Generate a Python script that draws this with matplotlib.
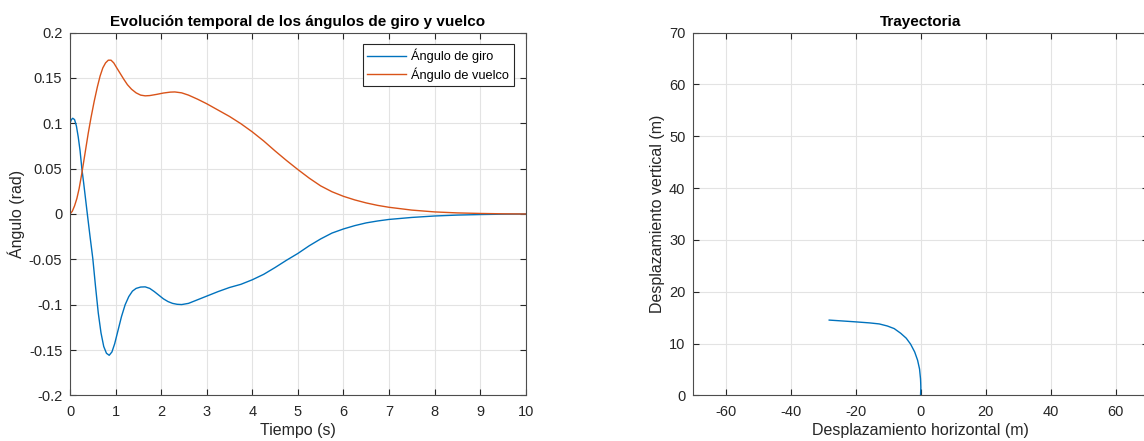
import matplotlib
matplotlib.use("Agg")
import matplotlib.pyplot as plt

plt.rcParams['font.family'] = ['Liberation Sans', 'DejaVu Sans']
plt.rcParams['axes.unicode_minus'] = False

# Evolución temporal
t_giro = [0, 0.03, 0.06, 0.1, 0.14, 0.18, 0.22, 0.26, 0.3, 0.34, 0.38, 0.44, 0.5,
          0.56, 0.62, 0.68, 0.74, 0.8, 0.86, 0.92, 0.98, 1.05, 1.13, 1.21, 1.29,
          1.37, 1.45, 1.55, 1.65, 1.75, 1.85, 1.95, 2.05, 2.15, 2.25, 2.35, 2.45,
          2.6, 2.75, 2.9, 3.05, 3.25, 3.5, 3.75, 4.0, 4.25, 4.5, 4.75, 5.0, 5.25,
          5.5, 5.75, 6.0, 6.25, 6.5, 6.75, 7.0, 7.5, 8.0, 8.5, 9.0, 9.5, 10.0]
giro = [0.1, 0.104, 0.1055, 0.104, 0.097, 0.085, 0.07, 0.05, 0.034, 0.017, 0.0,
        -0.025, -0.049, -0.08, -0.109, -0.131, -0.146, -0.1535, -0.1557, -0.152,
        -0.143, -0.129, -0.113, -0.1, -0.091, -0.085, -0.082, -0.0805, -0.0803,
        -0.082, -0.0855, -0.0895, -0.0935, -0.0965, -0.0985, -0.0995, -0.0998,
        -0.0985, -0.0955, -0.0925, -0.0895, -0.0855, -0.081, -0.0775, -0.0725,
        -0.0665, -0.059, -0.051, -0.0435, -0.035, -0.0275, -0.021, -0.0165,
        -0.0128, -0.0098, -0.0077, -0.006, -0.0038, -0.0022, -0.0012, -0.0006,
        -0.0002, 0.0]

t_vuelco = [0, 0.05, 0.1, 0.15, 0.2, 0.26, 0.33, 0.4, 0.46, 0.53, 0.6, 0.66, 0.72,
            0.78, 0.84, 0.9, 0.96, 1.02, 1.1, 1.18, 1.26, 1.35, 1.45, 1.55, 1.65,
            1.75, 1.9, 2.05, 2.2, 2.3, 2.45, 2.6, 2.8, 3.0, 3.25, 3.5, 3.75, 4.0,
            4.25, 4.5, 4.75, 5.0, 5.25, 5.5, 5.75, 6.0, 6.25, 6.5, 6.75, 7.0, 7.5,
            8.0, 8.5, 9.0, 9.5, 10.0]
vuelco = [0.0, 0.003, 0.009, 0.017, 0.028, 0.045, 0.067, 0.089, 0.106, 0.124, 0.14,
          0.152, 0.161, 0.1665, 0.1695, 0.1695, 0.1665, 0.1615, 0.155, 0.1485,
          0.1425, 0.1375, 0.1335, 0.131, 0.1302, 0.1305, 0.1318, 0.1333, 0.1343,
          0.1345, 0.1335, 0.131, 0.1265, 0.1215, 0.1145, 0.1075, 0.0995, 0.0905,
          0.0805, 0.0695, 0.059, 0.049, 0.0395, 0.031, 0.0245, 0.0195, 0.0155,
          0.0122, 0.0095, 0.0074, 0.0043, 0.0023, 0.0012, 0.0006, 0.0002, 0.0]

# Trayectoria
tray_x = [0, 0.1, 0.05, 0, -0.3, -0.9, -1.8, -3.05, -4.4, -6.1, -8.1, -10.2,
          -12.7, -15.7, -20.0, -24.0, -28.1]
tray_y = [0, 1.5, 2.5, 3.2, 5.1, 6.8, 8.4, 9.9, 11.05, 12.0, 12.9, 13.4,
          13.8, 14.0, 14.2, 14.37, 14.54]

BLUE = '#0072BD'
ORANGE = '#D95319'
DARK = '#262626'


def matlab_style(ax):
    ax.grid(True, color='#e3e3e3', linewidth=0.8)
    ax.set_axisbelow(True)
    ax.tick_params(direction='in', top=True, right=True, labelsize=10.5,
                   colors=DARK, length=4)
    ax.tick_params(axis='x', pad=7)
    ax.tick_params(axis='y', pad=5.5)
    for s in ax.spines.values():
        s.set_color('#4d4d4d')
        s.set_linewidth(0.8)


fig = plt.figure(figsize=(11.44, 4.41), dpi=100)

ax1 = fig.add_axes([0.0612, 0.1032, 0.3983, 0.8231])
ax1.plot(t_giro, giro, color=BLUE, linewidth=1.0, label='Ángulo de giro')
ax1.plot(t_vuelco, vuelco, color=ORANGE, linewidth=1.0, label='Ángulo de vuelco')
ax1.set_xlim(0, 10)
ax1.set_ylim(-0.2, 0.2)
ax1.set_xticks(range(0, 11))
ax1.set_yticks([-0.2, -0.15, -0.1, -0.05, 0, 0.05, 0.1, 0.15, 0.2])
ax1.set_yticklabels(['-0.2', '-0.15', '-0.1', '-0.05', '0', '0.05', '0.1', '0.15', '0.2'])
matlab_style(ax1)
ax1.set_xlabel('Tiempo (s)', fontsize=11.5, color=DARK, labelpad=3)
ax1.set_ylabel('Ángulo (rad)', fontsize=11.5, color=DARK, labelpad=3)
ax1.set_title('Evolución temporal de los ángulos de giro y vuelco',
              fontsize=11, fontweight='bold', pad=5)
leg = ax1.legend(loc='upper right', bbox_to_anchor=(0.974, 0.967), fontsize=9.2,
                 fancybox=False, framealpha=1, edgecolor=DARK, borderpad=0.35,
                 handlelength=3.0, handletextpad=0.45, labelspacing=0.3,
                 borderaxespad=0)
leg.get_frame().set_linewidth(0.8)

ax2 = fig.add_axes([0.6058, 0.1032, 0.3977, 0.8231])
ax2.plot(tray_x, tray_y, color=BLUE, linewidth=1.0)
ax2.set_xlim(-70, 70)
ax2.set_ylim(0, 70)
ax2.set_xticks(range(-60, 61, 20))
ax2.set_yticks(range(0, 71, 10))
matlab_style(ax2)
ax2.set_xlabel('Desplazamiento horizontal (m)', fontsize=11.5, color=DARK, labelpad=3)
ax2.set_ylabel('Desplazamiento vertical (m)', fontsize=11.5, color=DARK, labelpad=3)
ax2.set_title('Trayectoria', fontsize=11, fontweight='bold', pad=5)

fig.savefig('out.png', dpi=100)
plt.close()
